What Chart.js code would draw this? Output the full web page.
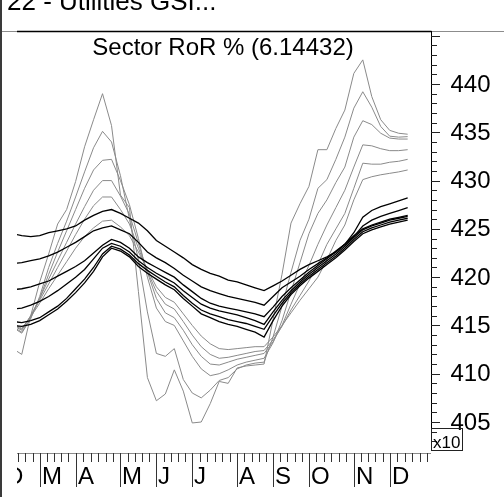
<!DOCTYPE html>
<html>
<head>
<meta charset="UTF-8">
<title>Sector RoR %</title>
<script src="https://cdn.jsdelivr.net/npm/chart.js"></script>
<style>
  html, body { margin: 0; padding: 0; background: #fff; }
  #wrap { width: 504px; height: 497px; }
</style>
</head>
<body>
<div id="wrap"><canvas id="rorChart" width="504" height="497"></canvas></div>
<script>
// weekly values, one entry per week (index 0 = first week shown)
const black1 = [424.5, 424.3, 424.2, 424.3, 424.6, 424.8, 425.0, 425.3, 425.9, 426.4,
  426.8, 427.0, 426.6, 426.1, 425.6, 424.8, 423.8, 423.2, 422.6, 422.0,
  421.3, 420.8, 420.4, 420.1, 419.7, 419.5, 419.2, 418.9, 418.6, 419.1,
  419.6, 420.2, 420.8, 421.3, 421.7, 422.1, 422.6, 423.4, 424.6, 426.2,
  426.9, 427.3, 427.6, 427.9, 428.2];
const black2 = [421.4, 421.5, 421.7, 421.9, 422.2, 422.6, 423.1, 423.6, 424.2, 424.8,
  425.1, 425.3, 424.9, 424.5, 423.6, 422.6, 422.0, 421.5, 420.9, 420.2,
  419.6, 419.0, 418.6, 418.3, 418.0, 417.8, 417.6, 417.4, 417.1, 418.0,
  418.9, 419.5, 420.1, 420.8, 421.4, 422.0, 422.7, 423.4, 424.2, 425.3,
  425.9, 426.3, 426.6, 426.9, 427.2];
const black3 = [418.7, 418.8, 419.0, 419.3, 419.6, 420.1, 420.6, 421.1, 421.7, 422.5,
  423.3, 423.9, 423.6, 423.0, 422.1, 421.5, 421.0, 420.5, 420.0, 419.2,
  418.5, 417.8, 417.3, 417.0, 416.8, 416.6, 416.4, 416.2, 415.9, 416.9,
  418.0, 418.9, 419.7, 420.5, 421.2, 421.9, 422.6, 423.4, 424.3, 425.0,
  425.4, 425.7, 426.0, 426.2, 426.4];
const black4 = [416.7, 416.8, 417.1, 417.5, 418.0, 418.6, 419.3, 420.0, 420.8, 421.9,
  423.0, 423.5, 423.2, 422.6, 421.7, 421.0, 420.4, 419.9, 419.4, 418.6,
  417.9, 417.2, 416.8, 416.5, 416.3, 416.1, 415.8, 415.5, 415.1, 416.4,
  417.6, 418.6, 419.5, 420.3, 421.0, 421.7, 422.4, 423.2, 424.1, 424.9,
  425.3, 425.6, 425.9, 426.1, 426.3];
const black5 = [415.4, 415.3, 415.5, 415.8, 416.4, 417.0, 417.8, 418.8, 419.8, 421.0,
  422.4, 423.2, 422.9, 422.3, 421.4, 420.7, 420.1, 419.5, 419.0, 418.1,
  417.3, 416.6, 416.2, 415.9, 415.6, 415.4, 415.2, 414.9, 414.6, 416.0,
  417.3, 418.4, 419.3, 420.1, 420.8, 421.5, 422.2, 423.0, 423.9, 424.7,
  425.1, 425.4, 425.7, 425.9, 426.1];
const black6 = [415.0, 414.9, 415.1, 415.5, 416.1, 416.7, 417.5, 418.4, 419.4, 420.6,
  422.1, 423.0, 422.7, 422.1, 421.1, 420.4, 419.8, 419.2, 418.7, 417.8,
  417.0, 416.2, 415.8, 415.4, 415.1, 414.9, 414.6, 414.3, 413.8, 415.5,
  417.0, 418.2, 419.1, 419.9, 420.6, 421.3, 422.0, 422.8, 423.7, 424.5,
  424.9, 425.2, 425.5, 425.7, 425.9];
const grey1 = [412.6, 412.0, 416.0, 419.5, 422.4, 425.5, 427.0, 429.9, 433.5, 436.3,
  439.0, 435.7, 428.5, 427.2, 418.5, 409.6, 407.2, 407.9, 410.4, 408.2,
  404.9, 405.0, 406.9, 409.2, 409.0, 410.6, 410.8, 410.9, 411.0, 415.6,
  420.3, 425.6, 427.6, 429.4, 433.2, 433.2, 435.4, 437.3, 441.1, 442.5,
  438.7, 436.3, 435.2, 434.9, 434.8];
const grey2 = [414.8, 414.2, 415.7, 418.0, 421.0, 423.5, 425.8, 428.3, 430.9, 433.4,
  435.1, 434.0, 430.5, 426.0, 421.8, 416.4, 412.1, 411.8, 412.6, 409.4,
  408.0, 407.5, 408.3, 409.3, 409.6, 410.5, 410.9, 411.1, 411.2, 413.8,
  417.0, 420.5, 423.8, 426.0, 429.2, 430.1, 432.2, 434.5, 437.5, 439.2,
  437.6, 435.6, 434.6, 434.5, 434.55];
const grey3 = [414.9, 414.3, 415.8, 417.8, 420.3, 422.6, 424.8, 427.0, 429.2, 431.1,
  432.1, 432.2, 430.0, 427.5, 424.0, 420.0, 416.8, 415.4, 415.0, 413.4,
  411.8, 410.5, 409.8, 410.0, 410.4, 410.9, 411.2, 411.4, 411.6, 413.2,
  415.5, 418.5, 421.5, 424.5, 426.6, 428.0, 429.8, 431.4, 434.5, 436.2,
  435.8, 434.9, 434.4, 434.3, 434.3];
const grey4 = [415.0, 414.5, 416.0, 417.8, 419.8, 421.7, 423.6, 425.5, 427.3, 429.0,
  430.0, 430.0, 428.4, 426.5, 423.5, 420.5, 417.8, 416.3, 415.8, 414.5,
  413.0, 411.8, 411.0, 410.9, 411.2, 411.5, 411.7, 411.9, 412.1, 413.3,
  415.0, 417.2, 419.3, 421.2, 423.4, 425.4, 427.2, 429.0, 431.4, 433.7,
  433.6, 433.3, 433.1, 433.1, 433.2];
const grey5 = [415.1, 414.6, 416.0, 417.6, 419.3, 421.0, 422.7, 424.4, 426.0, 427.4,
  428.3, 428.3, 427.0, 425.5, 423.0, 420.6, 418.5, 417.2, 416.7, 415.4,
  414.0, 412.8, 412.0, 411.6, 411.7, 411.9, 412.1, 412.3, 412.4, 413.5,
  414.9, 416.6, 418.1, 419.6, 421.3, 423.4, 425.0, 426.6, 429.2, 431.8,
  431.7, 431.7, 431.9, 432.0, 432.2];
const grey6 = [415.2, 414.7, 415.9, 417.3, 418.8, 420.2, 421.6, 423.0, 424.2, 425.1,
  425.8, 425.9, 425.2, 424.3, 422.6, 420.8, 419.0, 417.9, 417.4, 416.2,
  415.0, 413.9, 413.1, 412.6, 412.5, 412.6, 412.7, 412.8, 412.8, 413.8,
  415.0, 416.3, 417.6, 418.8, 420.0, 421.8, 423.8, 425.4, 428.0, 430.1,
  430.4, 430.6, 430.75, 430.9, 431.1];

// month boundaries in week units, and the letter drawn after each
const monthStarts = [-1, 3, 7, 12, 16, 20, 25, 29, 33, 38, 42, 47];
const monthLabels = ['D', 'M', 'A', 'M', 'J', 'J', 'A', 'S', 'O', 'N', 'D'];
const yTickLabels = [405, 410, 415, 420, 425, 430, 435, 440];

const FONT = '"Liberation Sans", Arial, Helvetica, sans-serif';

function toPoints(arr) {
  return arr.map((v, i) => ({ x: i, y: v }));
}

function series(arr, dark) {
  return {
    data: toPoints(arr),
    borderColor: dark ? '#000000' : '#8a8a8a',
    borderWidth: dark ? 1.3 : 1,
    pointRadius: 0,
    tension: 0,
    fill: false
  };
}

// frame, axes, header and title drawn around the plot
const decorations = {
  id: 'decorations',
  afterDraw(chart) {
    const { ctx, chartArea: a, scales: { x, y } } = chart;
    const seg = (x1, y1, x2, y2) => {
      ctx.beginPath(); ctx.moveTo(x1, y1); ctx.lineTo(x2, y2); ctx.stroke();
    };
    ctx.save();

    // header strip
    ctx.fillStyle = '#000';
    ctx.font = '26px ' + FONT;
    ctx.textAlign = 'left';
    ctx.textBaseline = 'alphabetic';
    ctx.fillText('22 - Utilities GSI...', 7, 10);
    ctx.strokeStyle = '#8c8c8c';
    ctx.lineWidth = 1;
    seg(0, 31.5, 504, 31.5);
    ctx.strokeStyle = '#3a3a3a';
    ctx.lineWidth = 2;
    seg(1, 0, 1, 497);

    // plot top edge and right axis
    ctx.strokeStyle = '#000';
    ctx.lineWidth = 1.5;
    seg(a.left, a.top + 0.5, a.right + 0.5, a.top + 0.5);
    ctx.lineWidth = 1;
    seg(a.right + 0.5, a.top, a.right + 0.5, 451);

    // y ticks: minor every unit, major every five
    ctx.strokeStyle = '#222';
    for (let v = Math.ceil(y.min); v <= y.max; v++) {
      const py = Math.round(y.getPixelForValue(v)) + 0.5;
      if (py > 451) continue;
      const len = v % 5 === 0 ? 9 : 6;
      seg(a.right, py, a.right + len, py);
    }
    ctx.font = '24px ' + FONT;
    ctx.textBaseline = 'middle';
    yTickLabels.forEach(v => {
      ctx.fillText(String(v), a.right + 19.5, y.getPixelForValue(v) + 1);
    });

    // multiplier box
    ctx.lineWidth = 1;
    ctx.strokeRect(431.5, 428.5, 31, 22);
    ctx.font = '17px ' + FONT;
    ctx.textBaseline = 'alphabetic';
    ctx.fillText('x10', 433, 448);

    // x axis: baseline, week ticks, month ticks and letters
    ctx.save();
    ctx.beginPath();
    ctx.rect(a.left, a.bottom - 2, a.right - a.left + 0.5, 60);
    ctx.clip();
    ctx.strokeStyle = '#8c8c8c';
    seg(a.left, a.bottom + 0.5, a.right, a.bottom + 0.5);
    ctx.strokeStyle = '#333';
    for (let m = 0; m < monthStarts.length - 1; m++) {
      const s = monthStarts[m], e = monthStarts[m + 1];
      const n = e - s + 1;
      for (let k = 1; k < n; k++) {
        const px = Math.round(x.getPixelForValue(s + (e - s) * k / n)) + 0.5;
        seg(px, a.bottom, px, a.bottom + 9);
      }
    }
    ctx.fillStyle = '#000';
    ctx.font = '24px ' + FONT;
    monthLabels.forEach((lab, m) => {
      const px = Math.round(x.getPixelForValue(monthStarts[m])) + 0.5;
      seg(px, a.bottom, px, a.bottom + 34);
      ctx.fillText(lab, px + 1.5, 484);
    });
    ctx.restore();

    // title inside the plot
    ctx.fillStyle = '#000';
    ctx.font = '24px ' + FONT;
    ctx.textAlign = 'center';
    ctx.textBaseline = 'alphabetic';
    ctx.fillText('Sector RoR % (6.14432)', (a.left + a.right) / 2 - 1, 55);

    ctx.restore();
  }
};

new Chart(document.getElementById('rorChart'), {
  type: 'line',
  data: {
    datasets: [
      series(black1, true), series(black2, true), series(black3, true),
      series(black4, true), series(black5, true), series(black6, true),
      series(grey6, false), series(grey5, false), series(grey4, false),
      series(grey3, false), series(grey2, false), series(grey1, false)
    ]
  },
  options: {
    responsive: false,
    animation: false,
    events: [],
    layout: { padding: { left: 17, top: 31, right: 73, bottom: 44 } },
    scales: {
      x: { type: 'linear', min: 0.47, max: 46.6, display: false },
      y: { type: 'linear', min: 401.79, max: 445.49, display: false }
    },
    plugins: { legend: { display: false }, tooltip: { enabled: false }, title: { display: false } }
  },
  plugins: [decorations]
});
</script>
</body>
</html>
